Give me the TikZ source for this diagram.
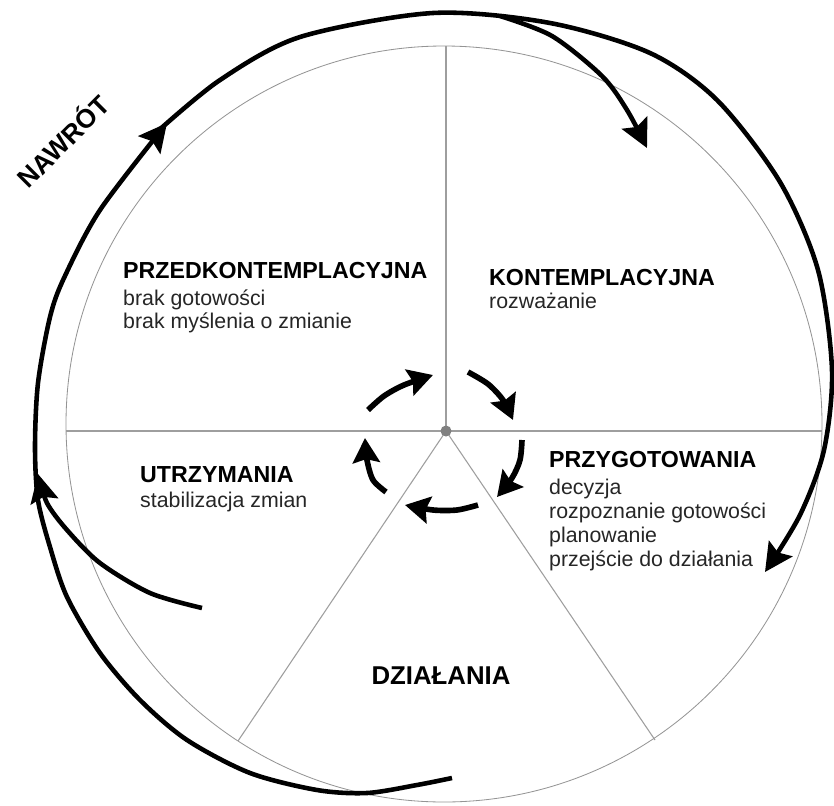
\documentclass[tikz,border=0pt]{standalone}
\usepackage{fontspec}
\setmainfont{Liberation Sans}
\usetikzlibrary{arrows.meta}
\tikzset{
  head/.style={anchor=base west, inner sep=0pt, text=black,
    font=\bfseries\fontsize{19.8pt}{22pt}\selectfont},
  body/.style={anchor=base west, inner sep=0pt, text=black!85,
    font=\fontsize{18.2pt}{21pt}\selectfont},
  spoke/.style={draw=black!38, line width=0.9pt},
  ring/.style={draw=black!42, line width=0.7pt},
  bigarc/.style={line width=3.9pt, -{Stealth[length=24pt,width=24pt,inset=4pt]}},
  smallarc/.style={line width=4.8pt, -{Stealth[length=21pt,width=23pt,inset=3pt]}}
}
\begin{document}
\begin{tikzpicture}[x=0.03cm,y=-0.03cm]
\useasboundingbox (0,0) rectangle (834,805);
\fill[white] (0,0) rectangle (834,805);

% gray wheel
\coordinate (cc) at (444,424);
\coordinate (hub) at (446,431);
\coordinate (eN) at (446,46);
\coordinate (eW) at (66,431);
\coordinate (eE) at (822,431);
\coordinate (eSW) at (238,741);
\coordinate (eSE) at (655,740);
\draw[ring] (cc) circle[radius=378];
\draw[spoke] (hub) -- (eN);
\draw[spoke] (eW) -- (eE);
\draw[spoke] (hub) -- (eSW);
\draw[spoke] (hub) -- (eSE);
\fill[black!50] (hub) circle[radius=5.5];

% outer relapse arc (two pieces, arrow in the middle)
\draw[bigarc] plot[smooth] coordinates {(452,778) (417,785) (367,793) (317,790) (250,773) (187,740) (140,700) (100,653) (67,597) (50,547) (38,500) (35,447) (38,383) (50,317) (64,278) (100,210) (167,123)};
\draw[bigarc] plot[smooth] coordinates {(158,131) (220,80) (300,37) (433,13) (550,23) (650,53) (717,100) (780,182) (818,270) (832,370) (824,450) (800,515) (765,572)};
% inner branch top right
\draw[bigarc] plot[smooth] coordinates {(500,16) (552,36) (602,76) (627,110) (647,148)};
% inner branch left
\draw[bigarc] plot[smooth] coordinates {(202,608) (150,593) (100,563) (67,530) (47,503) (38,474)};

% small cycle arrows
\draw[smallarc] plot[smooth] coordinates {(368,410) (384,396) (404,385) (433,375)};
\draw[smallarc] plot[smooth] coordinates {(468,372) (488,384) (503,400) (513,420)};
\draw[smallarc] plot[smooth] coordinates {(522,440) (520,460) (512,478) (497,497)};
\draw[smallarc] plot[smooth] coordinates {(478,505) (457,510) (433,510) (405,505)};
\draw[smallarc] plot[smooth] coordinates {(386,492) (373,480) (367,460) (365,438)};

% texts
\node[head] (t1) at (123,278) {PRZEDKONTEMPLACYJNA};
\node[body] (t1a) at (123,305) {brak gotowości};
\node[body] (t1b) at (123,328) {brak myślenia o zmianie};

\node[head] (t2) at (489,285) {KONTEMPLACYJNA};
\node[body] (t2a) at (489,308) {rozważanie};

\node[head] (t3) at (549,467) {PRZYGOTOWANIA};
\node[body] (t3a) at (549,494) {decyzja};
\node[body] (t3b) at (549,518) {rozpoznanie gotowości};
\node[body] (t3c) at (549,542) {planowanie};
\node[body] (t3d) at (549,566) {przejście do działania};

\node[head] (t4) at (140,482) {UTRZYMANIA};
\node[body] (t4a) at (140,507) {stabilizacja zmian};

\node[head, anchor=base, font=\bfseries\fontsize{22pt}{24pt}\selectfont] (t5) at (441,684) {DZIAŁANIA};

\node[inner sep=0pt, rotate=45, font=\bfseries\fontsize{22.5pt}{24pt}\selectfont] (naw) at (62,140) {NAWRÓT};
\end{tikzpicture}
\end{document}
